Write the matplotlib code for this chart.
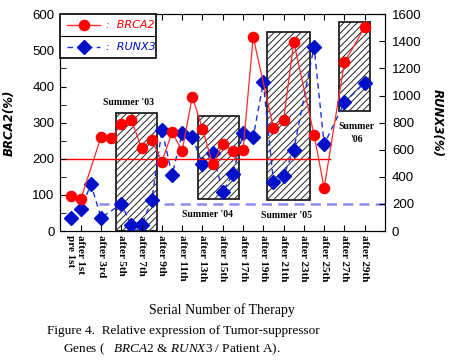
import matplotlib
matplotlib.use("Agg")
import matplotlib.pyplot as plt
from matplotlib.patches import Rectangle

plt.rcParams['mathtext.fontset'] = 'custom'
plt.rcParams['mathtext.rm'] = 'Liberation Serif'
plt.rcParams['mathtext.it'] = 'Liberation Serif:italic'
plt.rcParams['hatch.linewidth'] = 0.7
plt.rcParams['hatch.color'] = 'black'

# BRCA2 (left axis, %) and RUNX3 (right axis, %) per therapy number
brca_x = [0, 1, 3, 4, 5, 6, 7, 8, 9, 10, 11, 12, 13, 14, 15, 16, 17, 18, 20, 21, 22, 24, 25, 27, 29]
brca_y = [98, 88, 261, 257, 296, 307, 229, 252, 192, 273, 222, 372, 283, 185, 240, 222, 224, 537,
          285, 307, 524, 266, 120, 467, 564]
runx_x = [0, 1, 2, 3, 5, 6, 7, 8, 9, 10, 11, 12, 13, 14, 15, 16, 17, 18, 19, 20, 21, 22, 24, 25, 27, 29]
runx_y = [94, 160, 345, 98, 199, 42, 44, 229, 746, 414, 722, 692, 495, 578, 290, 421, 722, 692,
          1098, 362, 408, 598, 1361, 640, 950, 1095]

tick_pos = [0] + list(range(1, 30, 2))
tick_labels = ['pre 1st'] + ['after 1st', 'after 3rd'] + ['after %dth' % i for i in range(5, 21, 2)] \
    + ['after 21th', 'after 23th', 'after 25th', 'after 27th', 'after 29th']

# summer periods (x in therapy index, y on BRCA2 axis)
summer_labels = ["Summer '03", "Summer '04", "Summer '05", "Summer\n'06"]
summer_x0 = [4.43, 12.57, 19.37, 26.46]
summer_x1 = [8.47, 16.58, 23.58, 29.56]
summer_lo = [0, 89, 86, 332]
summer_hi = [328, 319, 552, 580]
summer_lx = [5.75, 13.5, 21.3, 28.2]
summer_ly = [355, 46, 44, 271]

brca_cut = 200
runx_cut = 200

fig = plt.figure(figsize=(4.5, 3.64), dpi=100)
ax = fig.add_axes([60/450, 1-231/364, 325/450, 216.7/364])
ax2 = ax.twinx()
ax.set_zorder(ax2.get_zorder() + 1)
ax.patch.set_visible(False)

ax.set_xlim(-1.05, 31)
ax.set_ylim(0, 600)
ax2.set_ylim(0, 1600)

# blue cut-off line, hatched summers, then blue series (on right axis)
ax2.hlines(runx_cut, 2.8, 31, colors='#8c8cf0', linewidth=1.8, linestyles=(0, (4, 2.5)), zorder=1)
for x0, x1, lo, hi in zip(summer_x0, summer_x1, summer_lo, summer_hi):
    ax2.add_patch(Rectangle((x0, lo), x1 - x0, hi - lo, transform=ax.transData,
                            facecolor='white', edgecolor='#222222', linewidth=1.3,
                            hatch='/////', zorder=2))
ax2.plot(runx_x, runx_y, color='#1a2ee0', linestyle=(0, (4, 3)), linewidth=1,
         marker='D', markersize=7, markerfacecolor='#0010c8', markeredgecolor='#0010c8', zorder=3)

ax.hlines(brca_cut, -1.05, 25.7, colors='#ff0000', linewidth=1, zorder=1)
ax.plot(brca_x, brca_y, color='#ff2a2a', linewidth=0.9,
        marker='o', markersize=7.3, markerfacecolor='#ff0000', markeredgecolor='#ff0000', zorder=3)

for lab, lx, ly in zip(summer_labels, summer_lx, summer_ly):
    ax.text(lx, ly, lab, ha='center', va='center', fontsize=7, fontweight='bold',
            family='Liberation Serif', linespacing=1.5, zorder=4)

# ticks
ax.set_xticks(tick_pos)
ax.set_xticklabels(tick_labels, rotation=270, fontsize=8, fontweight='bold', family='Liberation Serif')
ax.tick_params(axis='x', direction='in', top=True, length=4, pad=3)
ax.xaxis.get_major_ticks()[0].tick1line.set_visible(False)
ax.xaxis.get_major_ticks()[0].tick2line.set_visible(False)
ax.set_yticks(range(0, 601, 100))
ax.set_yticks(range(50, 600, 100), minor=True)
ax.tick_params(axis='y', which='both', direction='in', length=4, pad=4, labelsize=9.5)
ax2.set_yticks(range(0, 1601, 200))
ax2.tick_params(axis='y', direction='in', length=4, pad=5, labelsize=9.5)
for t in ax.get_yticklabels() + ax2.get_yticklabels():
    t.set_family('Liberation Sans')

ax.set_ylabel('BRCA2(%)', fontsize=8.5, fontweight='bold', style='italic')
ax.yaxis.set_label_coords(-0.135, 0.5)
ax2.set_ylabel('RUNX3(%)', fontsize=8.5, fontweight='bold', style='italic', rotation=270, va='center')
ax2.yaxis.set_label_coords(1.16, 0.5)

# legend box drawn by hand
ax.add_patch(Rectangle((0, 0.798), 0.295, 0.202, transform=ax.transAxes, facecolor='white',
                       edgecolor='black', linewidth=1.2, zorder=5, clip_on=False))
ax.plot([0, 0.295], [0.902, 0.902], transform=ax.transAxes, color='black', linewidth=0.8, zorder=6)
ax.plot([0.022, 0.123], [0.951, 0.951], transform=ax.transAxes, color='#ff2a2a', linewidth=1, zorder=6)
ax.plot([0.074], [0.951], transform=ax.transAxes, marker='o', markersize=7.3, color='#ff0000', zorder=7)
ax.plot([0.022, 0.123], [0.848, 0.848], transform=ax.transAxes, color='#1a2ee0', linewidth=1,
        linestyle=(0, (4, 3)), zorder=6)
ax.plot([0.074], [0.848], transform=ax.transAxes, marker='D', markersize=7, color='#0010c8', zorder=7)
ax.text(0.14, 0.951, ':  BRCA2', transform=ax.transAxes, color='#ff0000', fontsize=8,
        style='italic', va='center', zorder=7)
ax.text(0.14, 0.848, ':  RUNX3', transform=ax.transAxes, color='#0010c8', fontsize=8,
        style='italic', va='center', zorder=7)

fig.text(222/450, 1-310/364, 'Serial Number of Therapy', ha='center', va='center',
         fontsize=10, family='Liberation Serif')
fig.text(47/450, 1-331/364, 'Figure 4.  Relative expression of Tumor-suppressor', ha='left', va='center',
         fontsize=9.5, family='Liberation Serif')
fig.text(63/450, 1-349/364, r'Genes (   $\mathit{BRCA2}$ & $\mathit{RUNX3}$ / Patient A).', ha='left',
         va='center', fontsize=9.5, family='Liberation Serif')

fig.savefig('out.png', dpi=100)
